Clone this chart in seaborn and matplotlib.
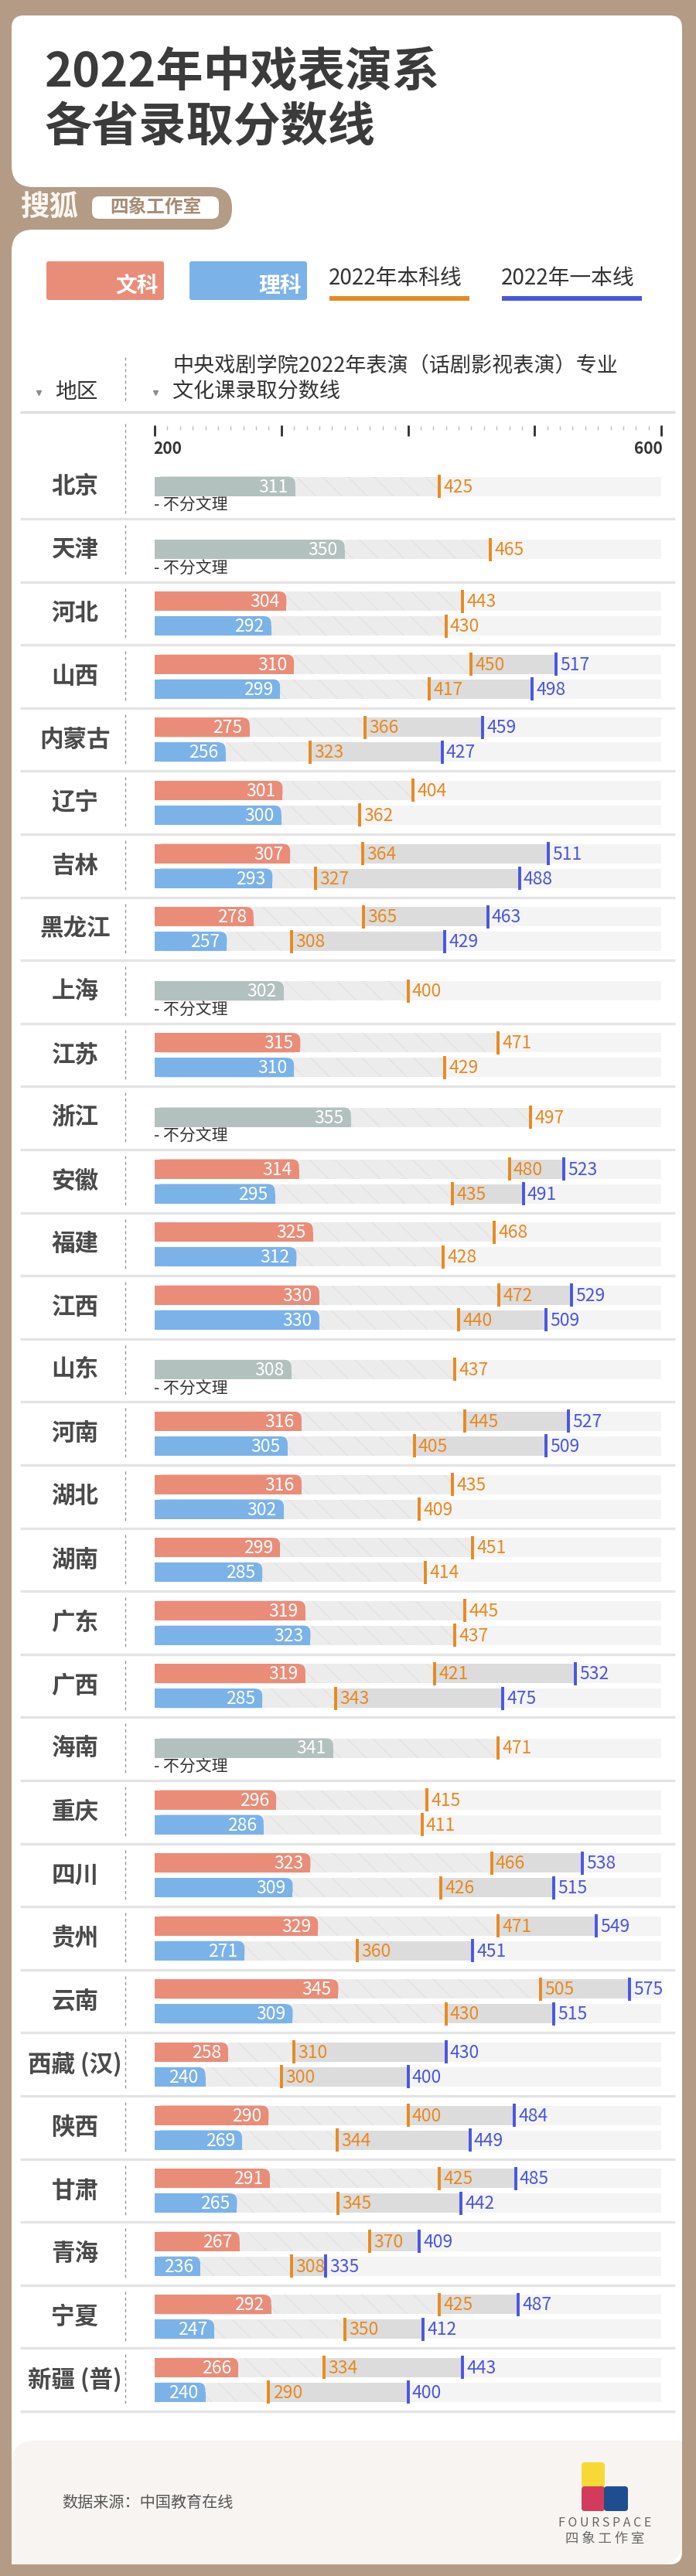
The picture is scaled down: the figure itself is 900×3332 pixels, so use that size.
import numpy as np
import pandas as pd
import seaborn as sns
import matplotlib.pyplot as plt
from matplotlib.patches import FancyBboxPatch, Rectangle

# —— DATA —— #
PROVINCES = ['北京', '天津', '河北', '山西', '内蒙古', '辽宁', '吉林', '黑龙江', '上海', '江苏',
             '浙江', '安徽', '福建', '江西', '山东', '河南', '湖北', '湖南', '广东', '广西',
             '海南', '重庆', '四川', '贵州', '云南', '西藏 (汉)', '陕西', '甘肃', '青海', '宁夏',
             '新疆 (普)']
nan = np.nan
# 文科 (or 不分文理 when there is no 理科 row)
WEN_SCORE = [311, 350, 304, 310, 275, 301, 307, 278, 302, 315, 355, 314, 325, 330, 308, 316,
             316, 299, 319, 319, 341, 296, 323, 329, 345, 258, 290, 291, 267, 292, 266]
WEN_BENKE = [425, 465, 443, 450, 366, 404, 364, 365, 400, 471, 497, 480, 468, 472, 437, 445,
             435, 451, 445, 421, 471, 415, 466, 471, 505, 310, 400, 425, 370, 425, 334]
WEN_YIBEN = [nan, nan, nan, 517, 459, nan, 511, 463, nan, nan, nan, 523, nan, 529, nan, 527,
             nan, nan, nan, 532, nan, nan, 538, 549, 575, 430, 484, 485, 409, 487, 443]
# 理科
LI_SCORE = [nan, nan, 292, 299, 256, 300, 293, 257, nan, 310, nan, 295, 312, 330, nan, 305,
            302, 285, 323, 285, nan, 286, 309, 271, 309, 240, 269, 265, 236, 247, 240]
LI_BENKE = [nan, nan, 430, 417, 323, 362, 327, 308, nan, 429, nan, 435, 428, 440, nan, 405,
            409, 414, 437, 343, nan, 411, 426, 360, 430, 300, 344, 345, 308, 350, 290]
LI_YIBEN = [nan, nan, nan, 498, 427, nan, 488, 429, nan, nan, nan, 491, nan, 509, nan, 509,
            nan, nan, nan, 475, nan, nan, 515, 451, 515, 400, 449, 442, 335, 412, 400]

TRACKS = ['文科', '理科', '不分文理']
AXIS_MIN, AXIS_MAX = 200, 600

# —— STYLE —— #
BROWN = '#B39B86'
FOOTER = '#F7F4F1'
TITLE_C = '#3B3B3B'
TEXT_C = '#333333'
LABEL_C = '#4A4A4A'
SALMON = '#E98D79'
SKY = '#7BB3E9'
GREYBAR = '#B3C1BE'
ORANGE = '#E8891F'
INDIGO = '#4A55E0'
TRACK_COLORS = [SALMON, SKY, GREYBAR]

W, H = 900, 3332
HEADER_SEP = 533
FIRST_BOT = 671
PITCH = 81.6
BAR_H = 25

sns.set_theme(style='white')
plt.rcParams['font.family'] = ['Noto Sans CJK SC', 'DejaVu Sans']
plt.rcParams['hatch.linewidth'] = 1.0


def sec_bounds(i):
    bot = FIRST_BOT + i * PITCH
    top = HEADER_SEP if i == 0 else bot - PITCH
    return top, bot


# —— TABLE FOR SEABORN —— #
rows = []
for i, prov in enumerate(PROVINCES):
    top, bot = sec_bounds(i)
    if np.isnan(LI_SCORE[i]):
        rows.append(dict(province=prov, track='不分文理', score=WEN_SCORE[i],
                         benke=WEN_BENKE[i], yiben=WEN_YIBEN[i], y=bot - 42))
    else:
        rows.append(dict(province=prov, track='文科', score=WEN_SCORE[i],
                         benke=WEN_BENKE[i], yiben=WEN_YIBEN[i], y=bot - 56.6))
        rows.append(dict(province=prov, track='理科', score=LI_SCORE[i],
                         benke=LI_BENKE[i], yiben=LI_YIBEN[i], y=bot - 24.6))
df = pd.DataFrame(rows)

fig = plt.figure(figsize=(W / 100, H / 100), dpi=100)
fig.patch.set_facecolor(BROWN)

# background / decoration axes in pixel coordinates
bg = fig.add_axes([0, 0, 1, 1], zorder=0)
bg.set_xlim(0, W)
bg.set_ylim(H, 0)
bg.axis('off')


def rbox(ax, x0, y0, x1, y1, r, color, z=1):
    ax.add_patch(FancyBboxPatch((x0, y0), x1 - x0, y1 - y0,
                                boxstyle=f'round,pad=0,rounding_size={r}',
                                fc=color, ec='none', zorder=z))


# cards and tab
rbox(bg, 15, 20, 882, 3317, 16, 'white', 1)
rbox(bg, -40, 242, 300, 297, 27, BROWN, 2)
bg.add_patch(Rectangle((15, 215), 50, 110, fc=BROWN, ec='none', zorder=1.5))
rbox(bg, 15, 20, 882, 242, 28, 'white', 2.2)
rbox(bg, 15, 297, 882, 3317, 28, 'white', 1.8)
rbox(bg, 15, 3157, 882, 3317, 30, FOOTER, 2.5)
bg.add_patch(Rectangle((800, 3157), 82, 60, fc=FOOTER, ec='none', zorder=2.5))
bg.add_patch(Rectangle((15, 3250), 82, 67, fc=FOOTER, ec='none', zorder=2.5))
bg.add_patch(Rectangle((800, 3250), 82, 50, fc=FOOTER, ec='none', zorder=2.5))

# title
bg.text(58, 95, '2022年中戏表演系', fontsize=44, weight='bold', color=TITLE_C,
        ha='left', va='center', zorder=3)
bg.text(58, 165, '各省录取分数线', fontsize=44, weight='bold', color=TITLE_C,
        ha='left', va='center', zorder=3)

# sohu tab
bg.text(26, 268, '搜狐', fontsize=27, weight='bold', color='#FBF6F1', ha='left',
        va='center', zorder=3)
rbox(bg, 119, 254, 283, 283, 9, 'white', 3)
bg.text(201, 268, '四象工作室', fontsize=17, weight='bold', color='#A58B74',
        ha='center', va='center', zorder=4)

# legend
rbox(bg, 60, 338, 212, 388, 3, SALMON, 3)
bg.text(205, 370, '文科', fontsize=20, weight='bold', color='white', ha='right',
        va='center', zorder=4)
rbox(bg, 245, 338, 397, 388, 3, SKY, 3)
bg.text(390, 370, '理科', fontsize=20, weight='bold', color='white', ha='right',
        va='center', zorder=4)
bg.text(425, 360, '2022年本科线', fontsize=20, color=TEXT_C, ha='left', va='center', zorder=3)
bg.add_patch(Rectangle((426, 383), 181, 6, fc=ORANGE, ec='none', zorder=3))
bg.text(648, 360, '2022年一本线', fontsize=20, color=TEXT_C, ha='left', va='center', zorder=3)
bg.add_patch(Rectangle((649, 383), 181, 6, fc=INDIGO, ec='none', zorder=3))

# table header
bg.plot([50, 201], [508, 508], ls='none', marker='v', ms=5, color='#8C8C8C', zorder=3)
bg.text(71, 507, '地区', fontsize=20, color=TEXT_C, ha='left', va='center', zorder=3)
bg.text(223, 473, '中央戏剧学院2022年表演（话剧影视表演）专业', fontsize=19.5, color=TEXT_C,
        ha='left', va='center', zorder=3)
bg.text(223, 507, '文化课录取分数线', fontsize=19.5, color=TEXT_C, ha='left', va='center',
        zorder=3)
bg.vlines(162, 462, 522, colors='#8C8C8C', linestyles=(0, (3, 3)), lw=0.9, zorder=3)
bg.hlines(HEADER_SEP, 26, 873, colors='#DDDDDD', lw=2.4, zorder=3)

# province sections
for i, prov in enumerate(PROVINCES):
    top, bot = sec_bounds(i)
    bg.hlines(bot, 26, 873, colors='#E4E4E4', lw=2.4, zorder=3)
    d0 = 548 if i == 0 else top + 8
    bg.vlines(162, d0, bot - 7, colors='#8C8C8C', linestyles=(0, (3, 3)), lw=0.9, zorder=3)
    single = np.isnan(LI_SCORE[i])
    ly = bot - 42 if single else bot - 40.8
    bg.text(97, ly, prov, fontsize=22, weight='bold', color=LABEL_C, ha='center',
            va='center', zorder=3)
    if single:
        bg.text(199, bot - 17, '- 不分文理', fontsize=15, color=TEXT_C, ha='left',
                va='center', zorder=3)

# footer
bg.text(80, 3237, '数据来源：中国教育在线', fontsize=14.5, color='#555555', ha='left',
        va='center', zorder=3)
rbox(bg, 752, 3185, 782, 3218, 4, '#F6D935', 3)
rbox(bg, 752, 3216, 782, 3248, 4, '#D23B5B', 3)
rbox(bg, 781, 3216, 812, 3248, 4, '#1F4E8F', 3)
bg.text(782, 3264, 'F O U R S P A C E', fontsize=11.5, color='#666666', ha='center',
        va='center', zorder=3)
bg.text(782, 3284, '四 象 工 作 室', fontsize=12.5, color='#666666', ha='center',
        va='center', zorder=3)

# —— CHART AXES —— #
ax = fig.add_axes([200 / W, 0, (855 - 200) / W, 1], zorder=1)
ax.patch.set_alpha(0)

sns.barplot(data=df, x='score', y='y', hue='track', hue_order=TRACKS,
            palette=TRACK_COLORS, saturation=1, orient='y', native_scale=True,
            dodge=False, errorbar=None, legend=False, width=0.78, ax=ax)
bar_patches = list(ax.patches)

ax.set_xlim(AXIS_MIN, AXIS_MAX)
ax.set_ylim(H, 0)
ax.set_axis_off()

px_per_unit = (855 - 200) / (AXIS_MAX - AXIS_MIN)
r_units = 9 / px_per_unit
for p in bar_patches:
    yc = p.get_y() + p.get_height() / 2
    right = p.get_x() + p.get_width()
    col = p.get_facecolor()
    p.set_x(AXIS_MIN)
    p.set_width(right - AXIS_MIN - r_units)
    p.set_y(yc - BAR_H / 2)
    p.set_height(BAR_H)
    p.set_linewidth(0)
    p.set_zorder(2)
    ax.add_patch(FancyBboxPatch((AXIS_MIN, yc - BAR_H / 2), right - AXIS_MIN, BAR_H,
                                boxstyle=f'round,pad=0,rounding_size={r_units}',
                                mutation_aspect=px_per_unit, fc=col, ec='none', zorder=2))
    # keep the lower right corner square
    ax.add_patch(Rectangle((right - r_units, yc), r_units, BAR_H / 2, fc=col, ec='none',
                           zorder=2))

# tracks behind the bars
ax.barh(df['y'], AXIS_MAX - AXIS_MIN, left=AXIS_MIN, height=BAR_H, color='#F4F4F4',
        lw=0, zorder=0.5)
ax.barh(df['y'], df['benke'] - df['score'], left=df['score'], height=BAR_H,
        color='#ECECEC', hatch='\\', edgecolor='#E3E3E3', lw=0, zorder=0.6)
has_yi = df.dropna(subset=['yiben'])
ax.barh(has_yi['y'], has_yi['yiben'] - has_yi['benke'], left=has_yi['benke'],
        height=BAR_H, color='#DCDCDC', lw=0, zorder=0.7)

# threshold markers and labels
ax.vlines(df['benke'], df['y'] - 15, df['y'] + 15, colors=ORANGE, lw=2.8, zorder=3)
ax.vlines(has_yi['yiben'], has_yi['y'] - 15, has_yi['y'] + 15, colors=INDIGO, lw=2.8,
          zorder=3)
for _, r in df.iterrows():
    ax.text(r['score'] - 5.5, r['y'] + 1, f"{int(r['score'])}", ha='right', va='center',
            color='white', fontsize=16.5, zorder=5)
    ax.text(r['benke'] + 3.2, r['y'] + 1, f"{int(r['benke'])}", ha='left', va='center',
            color=ORANGE, fontsize=16.5, zorder=5)
    if not np.isnan(r['yiben']):
        ax.text(r['yiben'] + 3.2, r['y'] + 1, f"{int(r['yiben'])}", ha='left',
                va='center', color=INDIGO, fontsize=16.5, zorder=5)

# scale ticks
major = list(range(AXIS_MIN, AXIS_MAX + 1, 100))
minor = [t for t in range(AXIS_MIN + 10, AXIS_MAX, 10) if t % 100]
ax.vlines(major, 550, 564, colors='#2E2E2E', lw=2, zorder=3, clip_on=False)
ax.vlines(minor, 551, 556, colors='#BBBBBB', lw=1, zorder=3, clip_on=False)
ax.text(AXIS_MIN - 1, 580, str(AXIS_MIN), ha='left', va='center', fontsize=15,
        weight='bold', color=TEXT_C)
ax.text(AXIS_MAX + 1, 580, str(AXIS_MAX), ha='right', va='center', fontsize=15,
        weight='bold', color=TEXT_C)

fig.savefig('out.png', dpi=100, facecolor=BROWN)
